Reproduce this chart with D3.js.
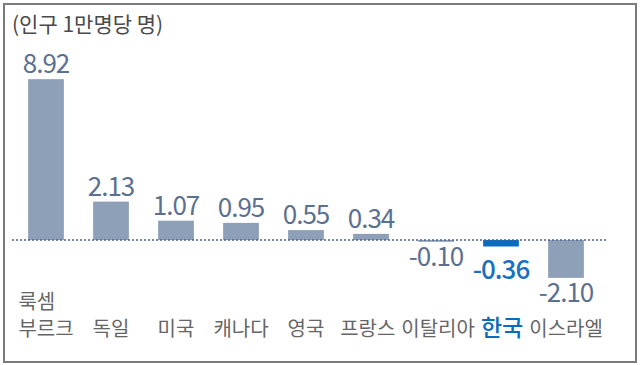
<!DOCTYPE html>
<html>
<head>
<meta charset="utf-8">
<script src="https://cdn.jsdelivr.net/npm/d3@7"></script>
<style>
  html, body { margin: 0; padding: 0; background: #fff; }
  svg { display: block; }
</style>
</head>
<body>
<div id="chart"></div>
<script>
// data
const countries = ['룩셈\n부르크', '독일', '미국', '캐나다', '영국', '프랑스', '이탈리아', '한국', '이스라엘'];
const values = [8.92, 2.13, 1.07, 0.95, 0.55, 0.34, -0.10, -0.36, -2.10];
const highlight = '한국';
const unitLabel = '(인구 1만명당 명)';

const width = 640, height = 365;
const FONT = '"Noto Sans CJK KR", "Noto Sans", sans-serif';

const svg = d3.select('#chart').append('svg')
  .attr('width', width)
  .attr('height', height);

// frame
svg.append('rect')
  .attr('x', 4).attr('y', 4)
  .attr('width', 632).attr('height', 358)
  .attr('fill', '#fff')
  .attr('stroke', '#7b7b7b')
  .attr('stroke-width', 2);

const data = countries.map((c, i) => ({ name: c, value: values[i] }));

const x = d3.scaleBand()
  .domain(countries)
  .range([13.5, 598.5])
  .paddingInner(0.45)
  .paddingOuter(0.225);

const y = d3.scaleLinear()
  .domain([-3, 10])
  .range([294.1, 59.7]);

// unit label
svg.append('text')
  .attr('x', 12).attr('y', 32)
  .attr('font-family', FONT)
  .attr('font-size', 21)
  .attr('fill', '#4a4a4a')
  .text(unitLabel);

// bars
svg.append('g').selectAll('rect')
  .data(data)
  .join('rect')
  .attr('x', d => x(d.name))
  .attr('width', x.bandwidth())
  .attr('y', d => y(Math.max(0, d.value)))
  .attr('height', d => Math.abs(y(d.value) - y(0)))
  .attr('fill', d => d.name === highlight ? '#0a6cbf' : '#8e9fb8');

// zero line
svg.append('line')
  .attr('x1', 12).attr('x2', 606)
  .attr('y1', y(0)).attr('y2', y(0))
  .attr('stroke', '#4a6290')
  .attr('stroke-width', 1.5)
  .attr('stroke-dasharray', '2,2');

// value labels
svg.append('g').selectAll('text')
  .data(data)
  .join('text')
  .attr('x', d => x(d.name) + x.bandwidth() / 2)
  .attr('y', d => d.value >= 0
    ? y(d.value) - 6
    : y(d.value) + (d.name === highlight ? 15 : 6) + 18)
  .attr('text-anchor', 'middle')
  .attr('font-family', FONT)
  .attr('font-size', 26)
  .attr('letter-spacing', -1)
  .attr('font-weight', d => d.name === highlight ? 500 : 400)
  .attr('fill', d => d.name === highlight ? '#1a6fc0' : '#5b7090')
  .text(d => d.value.toFixed(2));

// category labels (multi-line ones are left aligned on their widest line)
const cat = svg.append('g').selectAll('text')
  .data(data)
  .join('text')
  .attr('font-family', FONT)
  .attr('font-size', d => d.name === highlight ? 23 : 20)
  .attr('font-weight', d => d.name === highlight ? 500 : 400)
  .attr('fill', d => d.name === highlight ? '#0a6cbf' : '#666');

const boxes = [];
cat.each(function (d) {
  const lines = d.name.split('\n');
  const cx = x(d.name) + x.bandwidth() / 2;
  const spans = d3.select(this).selectAll('tspan')
    .data(lines)
    .join('tspan')
    .attr('y', (l, i) => 336 - (lines.length - 1 - i) * 27)
    .text(l => l);
  let w = 0;
  spans.each(function () { w = Math.max(w, this.getComputedTextLength()); });
  boxes.push({ el: this, spans: spans, left: cx - w / 2, w: w });
});

// nudge neighbours apart where they touch
const GAP = 6;
for (let pass = 0; pass < 4; pass++) {
  for (let i = 0; i < boxes.length - 1; i++) {
    const a = boxes[i], b = boxes[i + 1];
    const over = a.left + a.w + GAP - b.left;
    if (over > 0) {
      a.left -= over / 2;
      b.left += over / 2;
    }
  }
}
boxes.forEach(b => b.spans.attr('x', b.left));
</script>
</body>
</html>
